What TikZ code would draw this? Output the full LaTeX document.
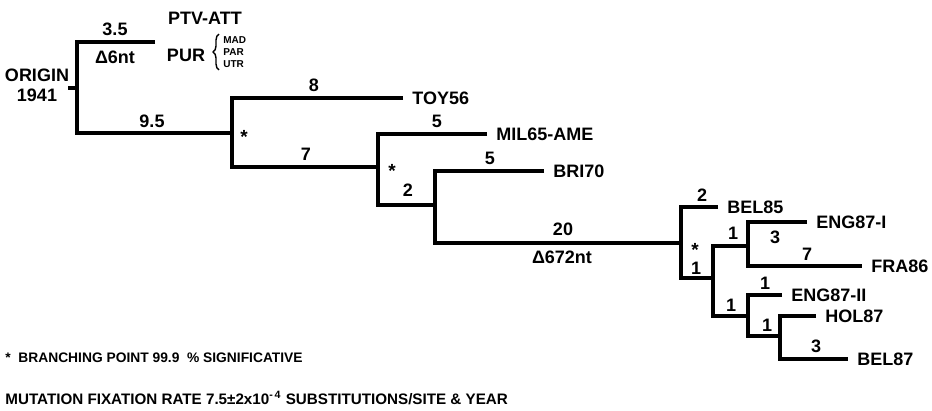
\documentclass[tikz,border=0pt]{standalone}
\usepackage{fontspec}
\setmainfont{Liberation Sans}
\usetikzlibrary{positioning,decorations.pathreplacing}
\tikzset{
  rama/.style={line width=1.6pt},
  taxon/.style={font=\fontsize{9}{10}\selectfont\bfseries, inner sep=0pt},
  etiq/.style={font=\fontsize{9}{10}\selectfont\bfseries, inner sep=0pt},
  signif/.style={font=\fontsize{9.5}{10}\selectfont\bfseries, inner sep=0pt},
  nota/.style={font=\fontsize{6.9}{8}\selectfont\bfseries, anchor=west, inner sep=0pt},
  chico/.style={font=\fontsize{5}{6}\selectfont\bfseries, inner sep=0pt},
  llave/.style={decorate, decoration={brace, amplitude=3pt}, line width=0.7pt}
}

\begin{document}
\begin{tikzpicture}[x=0.5pt,y=-0.5pt,node distance=4.5pt]
\useasboundingbox (0,0) rectangle (932,411);

% Puntos del arbol
\coordinate (rt) at (68,88);
\coordinate (r) at (77,88);
\coordinate (ptvE) at (155,42);
\coordinate (n1) at (232,133);
\coordinate (toyE) at (403,98);
\coordinate (n2) at (378,167);
\coordinate (milE) at (487,134);
\coordinate (n3) at (435,205);
\coordinate (briE) at (544,171);
\coordinate (n4) at (681,243);
\coordinate (bel85E) at (718,207);
\coordinate (n5) at (713,278);
\coordinate (n6) at (748,246);
\coordinate (engiE) at (807,222);
\coordinate (fraE) at (862,266);
\coordinate (n7) at (748,316);
\coordinate (engiiE) at (782,295);
\coordinate (n8) at (780,336);
\coordinate (holE) at (816,316);
\coordinate (bel87E) at (848,359);

% Ramas
\draw[rama] (rt) -- (r);
\draw[rama] (ptvE) -| (r) |- (n1);
\draw[rama] (toyE) -| (n1) |- (n2);
\draw[rama] (milE) -| (n2) |- (n3);
\draw[rama] (briE) -| (n3) |- (n4);
\draw[rama] (bel85E) -| (n4) |- (n5);
\draw[rama] (n6) -| (n5) |- (n7);
\draw[rama] (engiE) -| (n6) |- (fraE);
\draw[rama] (engiiE) -| (n7) |- (n8);
\draw[rama] (holE) -| (n8) |- (bel87E);

% Cepas
\node[etiq, align=center] (origen) at (37,85) {ORIGIN\\1941};
\node[taxon] (ptv) at (205,18) {PTV-ATT};
\node[taxon] (pur) at (186,55) {PUR};
\node[chico, align=left, anchor=west] (cepas) at (223,52) {MAD\\PAR\\UTR};
\draw[llave] ([xshift=-2pt,yshift=-1pt]cepas.south west)
  -- ([xshift=-2pt,yshift=1pt]cepas.north west);
\node[taxon, right=of toyE] (toy) {TOY56};
\node[taxon, right=of milE] (mil) {MIL65-AME};
\node[taxon, right=of briE] (bri) {BRI70};
\node[taxon, right=of bel85E] (bel85) {BEL85};
\node[taxon, right=of engiE] (engi) {ENG87-I};
\node[taxon, right=of fraE] (fra) {FRA86};
\node[taxon, right=of engiiE] (engii) {ENG87-II};
\node[taxon, right=of holE] (hol) {HOL87};
\node[taxon, right=of bel87E] (bel87) {BEL87};

% Longitudes de rama
\node[etiq] (l35) at (115,29) {3.5};
\node[etiq] (d6) at (115,57) {Δ6nt};
\node[etiq] (l95) at (152,121) {9.5};
\node[etiq] (l8) at (314,85) {8};
\node[etiq] (l7) at (306,154) {7};
\node[etiq] (l5a) at (437,121) {5};
\node[etiq] (l2) at (408,190) {2};
\node[etiq] (l5b) at (490,158) {5};
\node[etiq] (l20) at (563,229) {20};
\node[etiq] (d672) at (562,257) {Δ672nt};
\node[etiq] (l2b) at (702,195) {2};
\node[etiq] (l1a) at (696,268) {1};
\node[etiq] (l1b) at (733,233) {1};
\node[etiq] (l3a) at (775,237) {3};
\node[etiq] (l7b) at (807,254) {7};
\node[etiq] (l1c) at (731,305) {1};
\node[etiq] (l1d) at (765,283) {1};
\node[etiq] (l1e) at (767,325) {1};
\node[etiq] (l3b) at (816,346) {3};

% Puntos significativos
\node[signif] (s1) at (244,137) {*};
\node[signif] (s2) at (392,171) {*};
\node[signif] (s3) at (695,250) {*};

% Notas
\node[nota] (nota1) at (5,358) {*\ \ BRANCHING POINT 99.9\ \ \% SIGNIFICATIVE};
\node[nota, font=\fontsize{7.6}{8}\selectfont\bfseries] (nota2) at (5,398)
  {MUTATION FIXATION RATE 7.5±2x10\textsuperscript{-\,4} SUBSTITUTIONS/SITE \& YEAR};

\end{tikzpicture}
\end{document}
